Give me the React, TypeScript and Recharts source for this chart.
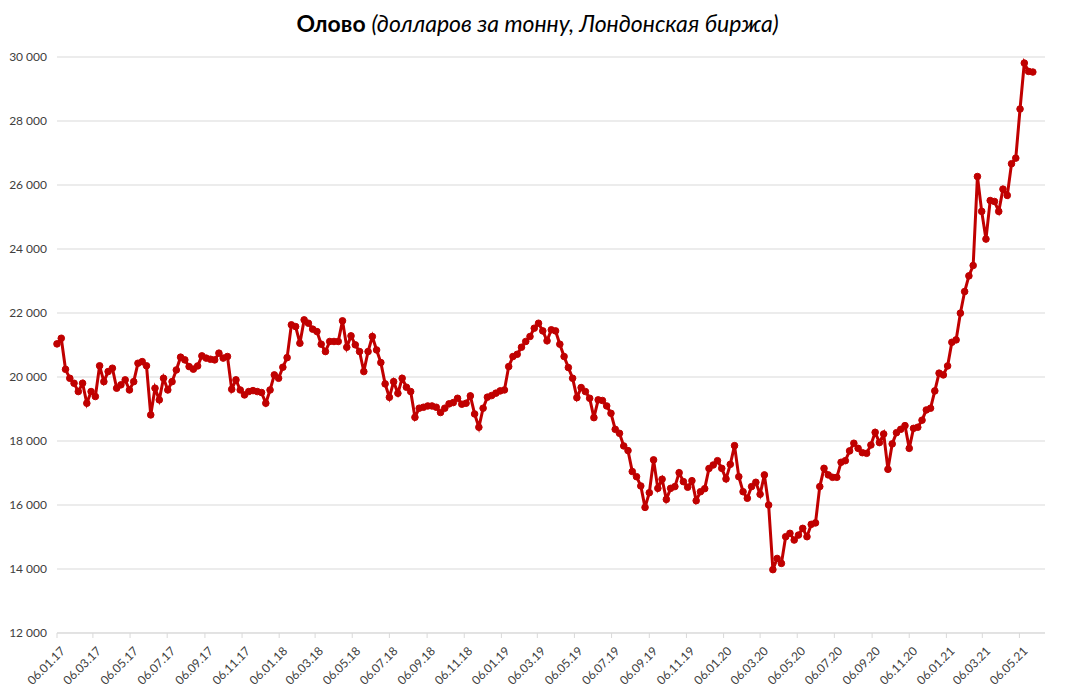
import { LineChart, Line, XAxis, YAxis, CartesianGrid } from "recharts";

// Weekly LME tin price, USD per tonne, starting 06.01.2017
const PRICES = [
  21035, 21210, 20240, 19960, 19805, 19545, 19805, 19180, 19545, 19390,
  20350, 19855, 20170, 20275, 19650, 19755, 19910, 19595, 19855, 20430,
  20480, 20350, 18815, 19650, 19285, 19960, 19595, 19855, 20220, 20620,
  20535, 20325, 20245, 20345, 20660, 20590, 20555, 20535, 20745, 20590,
  20640, 19615, 19910, 19595, 19440, 19545, 19575, 19545, 19515, 19180,
  19595, 20065, 19960, 20305, 20605, 21630, 21575, 21055, 21785, 21680,
  21495, 21420, 21025, 20795, 21110, 21110, 21110, 21755, 20930, 21285,
  21005, 20795, 20170, 20795, 21265, 20845, 20450, 19785, 19365, 19855,
  19490, 19960, 19680, 19545, 18740, 19025, 19055, 19095, 19095, 19055,
  18890, 19025, 19160, 19200, 19335, 19150, 19180, 19410, 18845, 18430,
  19025, 19370, 19420, 19495, 19565, 19595, 20325, 20640, 20710, 20930,
  21110, 21265, 21525, 21680, 21440, 21130, 21475, 21440, 21025, 20640,
  20295, 19960, 19355, 19670, 19545, 19335, 18730, 19285, 19265, 19095,
  18865, 18365, 18240, 17845, 17700, 17045, 16885, 16595, 15925, 16385,
  17410, 16520, 16805, 16175, 16520, 16575, 17010, 16730, 16555, 16760,
  16135, 16415, 16510, 17140, 17250, 17385, 17145, 16815, 17270, 17855,
  16885, 16415, 16210, 16575, 16710, 16335, 16940, 16000, 13980, 14330,
  14175, 15010, 15115, 14905, 15060, 15270, 15010, 15395, 15440, 16575,
  17145, 16940, 16865, 16865, 17335, 17385, 17690, 17930, 17770, 17635,
  17615, 17875, 18270, 17950, 18220, 17115, 17910, 18260, 18365, 18480,
  17770, 18395, 18430, 18650, 18970, 19025, 19565, 20120, 20065, 20345,
  21085, 21160, 21995, 22670, 23160, 23485, 26265, 25175, 24310, 25515,
  25485, 25175, 25870, 25675, 26665, 26840, 28375, 29810, 29550, 29530,
];

const TICK_LABELS = [
  "06.01.17", "06.03.17", "06.05.17", "06.07.17", "06.09.17", "06.11.17",
  "06.01.18", "06.03.18", "06.05.18", "06.07.18", "06.09.18", "06.11.18",
  "06.01.19", "06.03.19", "06.05.19", "06.07.19", "06.09.19", "06.11.19",
  "06.01.20", "06.03.20", "06.05.20", "06.07.20", "06.09.20", "06.11.20",
  "06.01.21", "06.03.21", "06.05.21",
];

const Y_TICKS = [12000, 14000, 16000, 18000, 20000, 22000, 24000, 26000, 28000, 30000];

const START = Date.UTC(2017, 0, 6);
const DAY_MS = 86400000;

function labelToDay(label: string) {
  const [d, m, y] = label.split(".").map(Number);
  return Math.round((Date.UTC(2000 + y, m - 1, d) - START) / DAY_MS);
}

const data = PRICES.map((price, i) => ({ day: i * 7, price }));
const xTicks = TICK_LABELS.map(labelToDay);
const labelByDay = new Map(xTicks.map((d, i) => [d, TICK_LABELS[i]]));

const FONT = "Lato, 'Open Sans', sans-serif";

function formatThousands(v: number) {
  return String(v).replace(/\B(?=(\d{3})+(?!\d))/g, " ");
}

function DateTick({ x, y, payload }: { x?: number; y?: number; payload?: { value: number } }) {
  if (x == null || y == null || !payload) return null;
  const ax = x + 3;
  const ay = y + 6;
  return (
    <text
      x={ax}
      y={ay}
      dy="0.7em"
      textAnchor="end"
      fontSize={12}
      fontFamily={FONT}
      fill="#404040"
      transform={`rotate(-45, ${ax}, ${ay})`}
    >
      {labelByDay.get(payload.value)}
    </text>
  );
}

export default function App() {
  return (
    <div style={{ position: "absolute", left: 0, top: 0, width: 1070, height: 695, background: "#fff" }}>
      <div
        style={{
          position: "absolute",
          top: 9,
          left: 0,
          width: 1075,
          textAlign: "center",
          fontFamily: FONT,
          fontSize: 23,
          color: "#000",
        }}
      >
        <b>Олово</b> <i>(долларов за тонну, Лондонская биржа)</i>
      </div>
      <LineChart
        width={1070}
        height={695}
        data={data}
        margin={{ top: 57, right: 25, bottom: 0, left: 0 }}
      >
        <CartesianGrid vertical={false} stroke="#d9d9d9" />
        <XAxis
          dataKey="day"
          type="number"
          domain={[0, 1623]}
          ticks={xTicks}
          interval={0}
          height={62}
          stroke="#d9d9d9"
          tickSize={5}
          tick={<DateTick />}
        />
        <YAxis
          domain={[12000, 30000]}
          ticks={Y_TICKS}
          width={57}
          axisLine={false}
          tickLine={false}
          tickMargin={4}
          tickFormatter={formatThousands}
          tick={{ fontSize: 12, fontFamily: FONT, fill: "#404040" }}
        />
        <Line
          type="linear"
          dataKey="price"
          stroke="#C00000"
          strokeWidth={3}
          dot={{ r: 3.3, fill: "#C00000", stroke: "#C00000", strokeWidth: 1 }}
          isAnimationActive={false}
        />
      </LineChart>
    </div>
  );
}
